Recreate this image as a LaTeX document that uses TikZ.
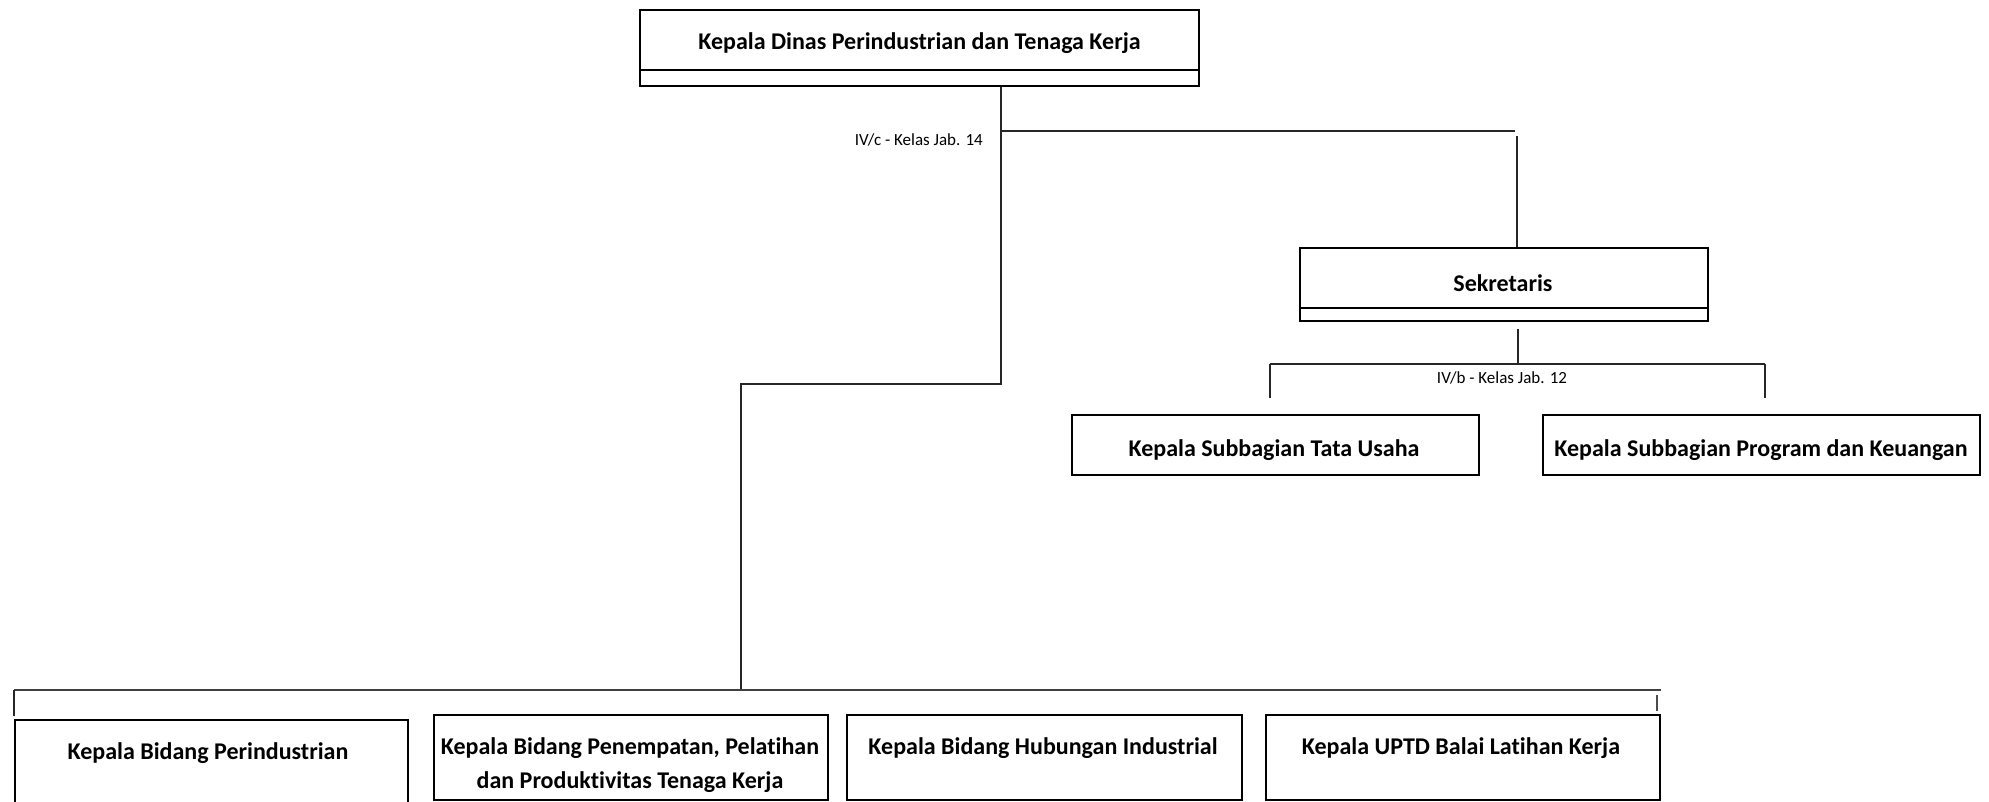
\documentclass[tikz,border=0pt]{standalone}
\usepackage{fontspec}
\setmainfont{Carlito}[Ligatures=NoCommon]
\begin{document}
\begin{tikzpicture}[x=1pt,y=-1pt,
  box/.style={draw, line width=2pt, inner sep=0pt, anchor=north west},
  ttl/.style={font=\bfseries\fontsize{24}{34}\selectfont, inner sep=0pt, align=center},
  lbl/.style={font=\fontsize{17}{20}\selectfont, inner sep=0pt},
  conn/.style={line width=1.3pt, black!85}]
\clip (0,0) rectangle (1989,801);
\fill[white] (0,0) rectangle (1989,801);

% Kepala Dinas
\node[box, minimum width=559pt, minimum height=76pt] (kadis) at (639,9) {};
\node[ttl] (kadist) at (919.5,43.5) {Kepala Dinas Perindustrian dan Tenaga Kerja};
\draw[line width=2pt] ([yshift=-61pt]kadis.north west) -- ([yshift=-61pt]kadis.north east);

% Sekretaris
\node[box, minimum width=408pt, minimum height=73pt] (sek) at (1299,247) {};
\node[ttl] (sekt) at (1503,283.5) {Sekretaris};
\draw[line width=2pt] ([yshift=-61pt]sek.north west) -- ([yshift=-61pt]sek.north east);

% Subbagian
\node[box, minimum width=407pt, minimum height=60pt] (tu) at (1071,414) {};
\node[ttl] (tut) at (1274,450.5) {Kepala Subbagian Tata Usaha};
\node[box, minimum width=437pt, minimum height=60pt] (prog) at (1542,414) {};
\node[ttl] (progt) at (1761,450.5) {Kepala Subbagian Program dan Keuangan};

% Bidang
\node[box, minimum width=393pt, minimum height=120pt] (bid1) at (14,719) {};
\node[ttl] (bid1t) at (208,753.5) {Kepala Bidang Perindustrian};
\node[box, minimum width=394pt, minimum height=85pt] (bid2) at (433,714) {};
\node[ttl] (bid2t) at (630,765.5) {Kepala Bidang Penempatan, Pelatihan\\dan Produktivitas Tenaga Kerja};
\node[box, minimum width=395pt, minimum height=85pt] (bid3) at (846,714) {};
\node[ttl] (bid3t) at (1043,748.5) {Kepala Bidang Hubungan Industrial};
\node[box, minimum width=394pt, minimum height=85pt] (bid4) at (1265,714) {};
\node[ttl] (bid4t) at (1461,748.5) {Kepala UPTD Balai Latihan Kerja};

% Labels
\node[lbl, anchor=east] (l1) at (983,140) {IV/c - Kelas Jab. 14};
\node[lbl] (l2) at (1502,378) {IV/b - Kelas Jab. 12};

% Connectors from Kepala Dinas
\coordinate (k1) at ([xshift=362pt]kadis.south west);
\coordinate (j1) at (1001,384);
\coordinate (j2) at (741,384);
\coordinate (bus) at (741,690);
\draw[conn] (k1) -- (j1) -- (j2) -- (bus);
\coordinate (h1) at (1001,131);
\coordinate (h2) at (1515,131);
\draw[conn] (h1) -- (h2);
\coordinate (s0) at (1517,136);
\draw[conn] (s0) -- (s0 |- sek.north);

% Sekretaris branch
\coordinate (s1) at (1518,329);
\coordinate (s2) at (1518,364);
\draw[conn, line width=2pt] (s1) -- (s2);
\coordinate (sl) at (1270,364);
\coordinate (sr) at (1765,364);
\draw[conn] (sl) -- (sr);
\draw[conn] (sl) -- ++(0,34);
\draw[conn] (sr) -- ++(0,34);

% Bottom bus
\coordinate (bl) at (14,690);
\coordinate (br) at (1661,690);
\draw[conn, black!75, line width=1.6pt] (bl) -- (br);
\draw[conn] (bl) -- (bl |- 0,716);
\coordinate (rt) at (1657,695);
\draw[conn, black!70] (rt) -- ++(0,16);
\end{tikzpicture}
\end{document}
